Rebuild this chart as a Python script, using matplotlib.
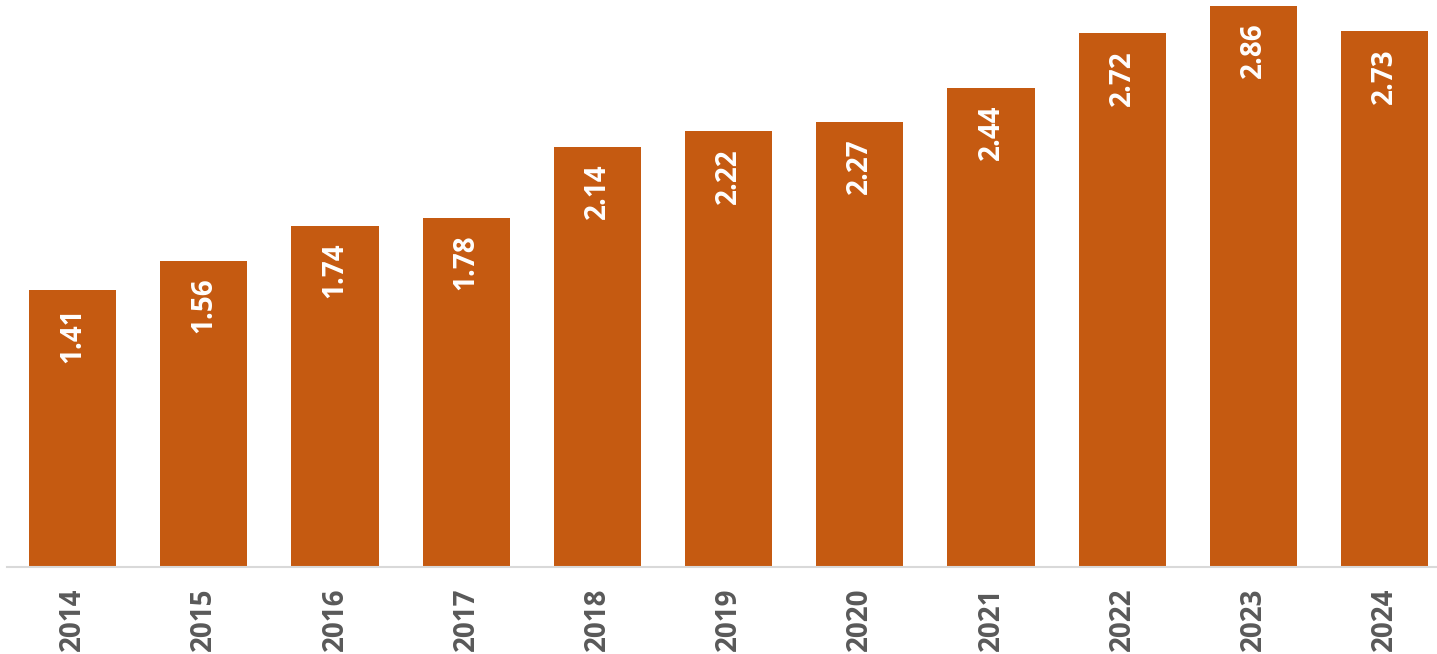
import matplotlib.pyplot as plt

years = ['2014', '2015', '2016', '2017', '2018', '2019', '2020', '2021', '2022', '2023', '2024']
values = [1.41, 1.56, 1.74, 1.78, 2.14, 2.22, 2.27, 2.44, 2.72, 2.86, 2.73]

plt.rcParams['font.family'] = ['Open Sans', 'DejaVu Sans']

fig = plt.figure(figsize=(14.37, 6.54), dpi=100)
ax = fig.add_axes([7 / 1437, (654 - 567) / 654, 1430 / 1437, 567 / 654])

x = range(len(years))
bars = ax.bar(x, values, width=0.665, color='#C55A11')

for i, v in enumerate(values):
    ax.annotate(f'{v:.2f}', (i, v), xytext=(0, -12), textcoords='offset points',
                rotation=90, ha='center', va='top', color='white',
                fontsize=20, fontweight='bold')

ax.set_xlim(-0.5, len(years) - 1 + 0.4)
ax.set_ylim(0, 2.89)
ax.set_xticks(list(x))
ax.set_xticklabels(years, rotation=90, fontsize=20, fontweight='bold', color='#595959')
ax.tick_params(axis='x', length=0, pad=15)
ax.set_yticks([])
for s in ['top', 'right', 'left']:
    ax.spines[s].set_visible(False)
ax.spines['bottom'].set_color('#D9D9D9')
ax.spines['bottom'].set_linewidth(1.5)

fig.savefig('out.png', dpi=100)
